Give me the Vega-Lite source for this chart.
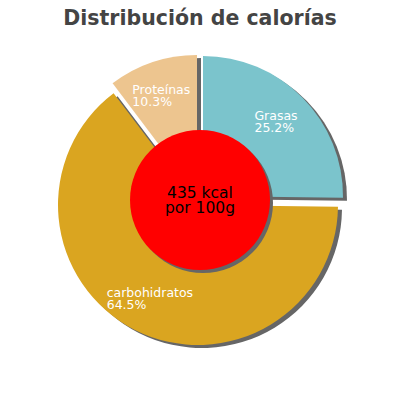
{
  "$schema": "https://vega.github.io/schema/vega-lite/v6.json",
  "width": 400,
  "height": 320,
  "autosize": "none",
  "padding": {"top": 40, "left": 0, "right": 0, "bottom": 0},
  "background": "white",
  "title": {
    "text": "Distribución de calorías",
    "font": "DejaVu Sans",
    "fontSize": 20.5,
    "fontWeight": "bold",
    "color": "#444444",
    "anchor": "middle",
    "offset": 11
  },
  "config": {"view": {"stroke": null}},
  "resolve": {"scale": {"theta": "independent"}},
  "layer": [
    {
      "data": {
        "values": [
          {"nutriente": "Grasas", "porcentaje": 25.2},
          {"nutriente": "carbohidratos", "porcentaje": 64.5},
          {"nutriente": "Proteínas", "porcentaje": 10.3}
        ]
      },
      "transform": [
        {"stack": "porcentaje", "groupby": [], "as": ["inicio", "fin"]},
        {"calculate": "(datum.inicio + datum.fin) / 2", "as": "medio"},
        {"calculate": "[datum.nutriente, format(datum.porcentaje, '.1f') + '%']", "as": "etiqueta"}
      ],
      "layer": [
        {
          "transform": [{"filter": "datum.nutriente == 'Grasas'"}],
          "mark": {"type": "arc", "outerRadius": 140, "color": "#666666", "xOffset": 7, "yOffset": -1},
          "encoding": {
            "theta": {"field": "inicio", "type": "quantitative", "scale": {"domain": [0, 100]}},
            "theta2": {"field": "fin"}
          }
        },
        {
          "transform": [{"filter": "datum.nutriente == 'carbohidratos'"}],
          "mark": {"type": "arc", "outerRadius": 140, "color": "#666666", "xOffset": 2, "yOffset": 8},
          "encoding": {
            "theta": {"field": "inicio", "type": "quantitative", "scale": {"domain": [0, 100]}},
            "theta2": {"field": "fin"}
          }
        },
        {
          "transform": [{"filter": "datum.nutriente == 'Proteínas'"}],
          "mark": {"type": "arc", "outerRadius": 140, "color": "#666666", "xOffset": 1, "yOffset": -2},
          "encoding": {
            "theta": {"field": "inicio", "type": "quantitative", "scale": {"domain": [0, 100]}},
            "theta2": {"field": "fin"}
          }
        },
        {
          "transform": [{"filter": "datum.nutriente == 'Grasas'"}],
          "mark": {"type": "arc", "outerRadius": 140, "color": "#7bc4cc", "xOffset": 3, "yOffset": -4},
          "encoding": {
            "theta": {"field": "inicio", "type": "quantitative", "scale": {"domain": [0, 100]}},
            "theta2": {"field": "fin"}
          }
        },
        {
          "transform": [{"filter": "datum.nutriente == 'carbohidratos'"}],
          "mark": {"type": "arc", "outerRadius": 140, "color": "#daa520", "xOffset": -2, "yOffset": 5},
          "encoding": {
            "theta": {"field": "inicio", "type": "quantitative", "scale": {"domain": [0, 100]}},
            "theta2": {"field": "fin"}
          }
        },
        {
          "transform": [{"filter": "datum.nutriente == 'Proteínas'"}],
          "mark": {"type": "arc", "outerRadius": 140, "color": "#edc58f", "xOffset": -3, "yOffset": -5},
          "encoding": {
            "theta": {"field": "inicio", "type": "quantitative", "scale": {"domain": [0, 100]}},
            "theta2": {"field": "fin"}
          }
        },
        {
          "transform": [{"filter": "datum.nutriente == 'Grasas'"}],
          "mark": {"type": "text", "radius": 106, "align": "left", "baseline": "middle", "font": "DejaVu Sans", "fontSize": 12.5, "lineHeight": 12, "color": "white", "dx": -21, "dy": -9.5},
          "encoding": {
            "theta": {"field": "medio", "type": "quantitative", "scale": {"domain": [0, 100]}},
            "text": {"field": "etiqueta"}
          }
        },
        {
          "transform": [{"filter": "datum.nutriente == 'carbohidratos'"}],
          "mark": {"type": "text", "radius": 106, "align": "left", "baseline": "middle", "font": "DejaVu Sans", "fontSize": 12.5, "lineHeight": 12, "color": "white", "dx": -45.5, "dy": -2},
          "encoding": {
            "theta": {"field": "medio", "type": "quantitative", "scale": {"domain": [0, 100]}},
            "text": {"field": "etiqueta"}
          }
        },
        {
          "transform": [{"filter": "datum.nutriente == 'Proteínas'"}],
          "mark": {"type": "text", "radius": 106, "align": "left", "baseline": "middle", "font": "DejaVu Sans", "fontSize": 12.5, "lineHeight": 12, "color": "white", "dx": -34, "dy": -10},
          "encoding": {
            "theta": {"field": "medio", "type": "quantitative", "scale": {"domain": [0, 100]}},
            "text": {"field": "etiqueta"}
          }
        }
      ]
    },
    {
      "data": {"values": [{"energia": 435, "unidad": "kcal", "base": "por 100g"}]},
      "transform": [
        {"calculate": "[datum.energia + ' ' + datum.unidad, datum.base]", "as": "centro"}
      ],
      "layer": [
        {
          "mark": {"type": "arc", "outerRadius": 70, "color": "#666666", "xOffset": 3, "yOffset": 3},
          "encoding": {"theta": {"field": "energia", "type": "quantitative"}}
        },
        {
          "mark": {"type": "arc", "outerRadius": 70, "color": "#ff0000"},
          "encoding": {"theta": {"field": "energia", "type": "quantitative"}}
        },
        {
          "mark": {"type": "text", "align": "center", "baseline": "middle", "font": "DejaVu Sans", "fontSize": 15.5, "lineHeight": 15.5, "color": "black", "dy": -7.5},
          "encoding": {"text": {"field": "centro"}}
        }
      ]
    }
  ]
}
